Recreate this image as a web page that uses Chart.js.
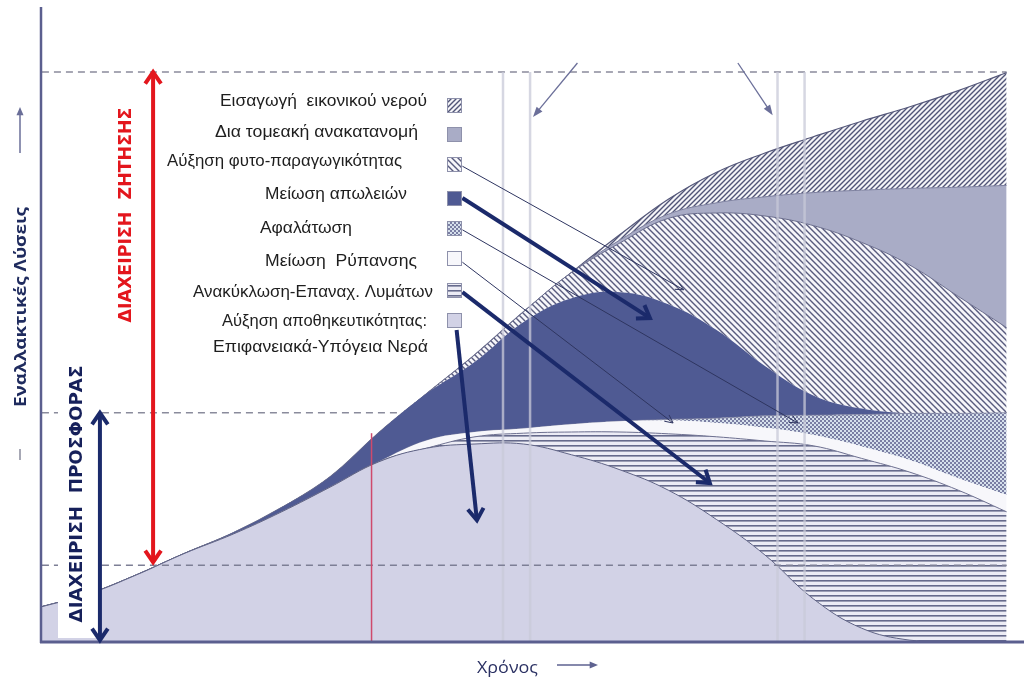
<!DOCTYPE html>
<html>
<head>
<meta charset="utf-8">
<script src="https://cdn.jsdelivr.net/npm/chart.js@4.4.0/dist/chart.umd.min.js"></script>
<style>
  html, body { margin: 0; padding: 0; background: #fff; overflow: hidden; }
  canvas { display: block; }
</style>
</head>
<body>
<canvas id="chart" width="1024" height="691"></canvas>
<script>
// time axis (arbitrary units)
const years = [0, 5, 10, 15, 20, 25, 30, 35, 40, 45, 50, 55, 60, 65, 70, 75, 80, 85, 90, 95, 100];

// legend labels, top to bottom
const legendLabels = [
    'Εισαγωγή  εικονικού νερού',
    'Δια τομεακή ανακατανομή',
    'Αύξηση φυτο-παραγωγικότητας',
    'Μείωση απωλειών',
    'Αφαλάτωση',
    'Μείωση  Ρύπανσης',
    'Ανακύκλωση-Επαναχ. Λυμάτων',
    'Αύξηση αποθηκευτικότητας:\nΕπιφανειακά-Υπόγεια Νερά'
];

// stacked layers, bottom to top
const storage   = [5.8, 8.0, 11.2, 14.8, 18.0, 21.7, 25.8, 30.0, 32.3, 33.0, 33.0, 31.2, 28.7, 25.3, 20.4, 14.5, 7.2, 2.3, 0.3, 0, 0];
const recycling = [0, 0, 0, 0, 0, 0, 0, 0, 0, 1.2, 1.8, 3.8, 6.3, 9.4, 13.8, 19.0, 25.5, 28.3, 28.0, 25.3, 21.7];
const pollution = [0, 0, 0, 0, 0, 0, 0, 0, 1.3, 0.8, 0.8, 1.3, 1.8, 2.2, 2.3, 2.2, 1.8, 2.0, 2.0, 2.0, 2.8];
const desal     = [0, 0, 0, 0, 0, 0, 0, 0, 0, 0, 0, 0, 0, 0.2, 0.8, 2.0, 3.3, 5.3, 7.8, 10.8, 13.7];
const losses    = [0, 0, 0, 0, 0.2, 0.7, 1.7, 4.8, 7.8, 11.7, 17.7, 21.0, 21.5, 19.2, 14.7, 8.3, 3.3, 1.0, 0, 0, 0];
const crops     = [0, 0, 0, 0, 0, 0, 0, 0, 0, 1.2, 1.7, 4.3, 8.2, 14.3, 19.5, 25.0, 28.3, 27.7, 24.7, 19.5, 14.2];
const realloc   = [0, 0, 0, 0, 0, 0, 0, 0, 0, 0, 0, 0, 0.5, 0.7, 1.7, 3.2, 5.5, 8.7, 12.8, 18.2, 23.7];
const virtual   = [0, 0, 0, 0, 0, 0, 0, 0, 0, 0, 0, 0, 0.9, 2.5, 5.1, 7.3, 9.3, 11.5, 13.6, 16.1, 18.8];

// reference levels (dashed lines)
const levels = [95.0, 38.2, 12.8];

const canvas = document.getElementById('chart');
const ctx0 = canvas.getContext('2d');

function makeTile(size, draw) {
    const c = document.createElement('canvas');
    c.width = size[0]; c.height = size[1];
    draw(c.getContext('2d'), size[0], size[1]);
    return ctx0.createPattern(c, 'repeat');
}

const fwdHatch = makeTile([5, 5], (g, w, h) => {
    g.fillStyle = '#f4f4f8'; g.fillRect(0, 0, w, h);
    g.strokeStyle = '#505477'; g.lineWidth = 1.4;
    g.beginPath();
    g.moveTo(-1, h + 1); g.lineTo(w + 1, -1);
    g.moveTo(-1, 1); g.lineTo(1, -1);
    g.moveTo(w - 1, h + 1); g.lineTo(w + 1, h - 1);
    g.stroke();
});
const backHatch = makeTile([6, 6], (g, w, h) => {
    g.fillStyle = '#f6f6fa'; g.fillRect(0, 0, w, h);
    g.strokeStyle = '#585b7e'; g.lineWidth = 1.4;
    g.beginPath();
    g.moveTo(-1, -1); g.lineTo(w + 1, h + 1);
    g.moveTo(w - 1, -1); g.lineTo(w + 1, 1);
    g.moveTo(-1, h - 1); g.lineTo(1, h + 1);
    g.stroke();
});
const crossHatch = makeTile([4, 4], (g, w, h) => {
    g.fillStyle = '#d6e0ec'; g.fillRect(0, 0, w, h);
    g.fillStyle = '#7a7ea3';
    g.fillRect(0, 0, 2, 2); g.fillRect(2, 2, 2, 2);
});
const hStripes = makeTile([5, 5], (g, w, h) => {
    g.fillStyle = '#ececf5'; g.fillRect(0, 0, w, h);
    g.fillStyle = '#666a8c'; g.fillRect(0, 0, w, 1.6);
});

const fills = {
    virtual: fwdHatch, realloc: '#a9acc6', crops: backHatch, losses: '#4f5a93',
    desal: crossHatch, pollution: '#f7f7fb', recycling: hStripes, storage: '#d2d2e6'
};

const pts = arr => years.map((x, i) => ({ x, y: arr[i] }));

function fitText(ctx, txt, x, y, w, font, color, align, rot) {
    ctx.save();
    ctx.font = font;
    ctx.fillStyle = color;
    ctx.textBaseline = 'middle';
    ctx.textAlign = align;
    const m = ctx.measureText(txt).width;
    ctx.translate(x, y);
    if (rot) ctx.rotate(rot);
    ctx.scale(w / m, 1);
    ctx.fillText(txt, 0, 0);
    ctx.restore();
}

function head(ctx, x, y, ang, len, spread, filled) {
    ctx.beginPath();
    ctx.moveTo(x - len * Math.cos(ang - spread), y - len * Math.sin(ang - spread));
    ctx.lineTo(x, y);
    ctx.lineTo(x - len * Math.cos(ang + spread), y - len * Math.sin(ang + spread));
    if (filled) { ctx.closePath(); ctx.fill(); } else ctx.stroke();
}

function arrow(ctx, x1, y1, x2, y2, o) {
    ctx.save();
    ctx.strokeStyle = o.color; ctx.fillStyle = o.color;
    ctx.lineWidth = o.lw; ctx.lineJoin = 'miter'; ctx.lineCap = 'butt';
    const ang = Math.atan2(y2 - y1, x2 - x1);
    const back = o.filled ? o.len * 0.8 : o.lw / 2;
    ctx.beginPath();
    const sx = o.both ? x1 + back * Math.cos(ang) : x1;
    const sy = o.both ? y1 + back * Math.sin(ang) : y1;
    ctx.moveTo(sx, sy);
    ctx.lineTo(x2 - back * Math.cos(ang), y2 - back * Math.sin(ang));
    ctx.stroke();
    head(ctx, x2, y2, ang, o.len, o.spread, o.filled);
    if (o.both) head(ctx, x1, y1, ang + Math.PI, o.len, o.spread, o.filled);
    ctx.restore();
}

const decor = {
    id: 'decor',
    beforeDatasetsDraw(chart) {
        const { ctx } = chart;
        const X = v => chart.scales.x.getPixelForValue(v);
        const Y = v => chart.scales.y.getPixelForValue(v);
        ctx.save();
        ctx.strokeStyle = '#8a8b9c'; ctx.lineWidth = 1.5; ctx.setLineDash([7, 5]);
        [levels[0], levels[1]].forEach(l => {
            ctx.beginPath(); ctx.moveTo(X(0.2), Y(l)); ctx.lineTo(X(100), Y(l)); ctx.stroke();
        });
        ctx.restore();
    },
    afterDatasetsDraw(chart) {
        const { ctx } = chart;
        const X = v => chart.scales.x.getPixelForValue(v);
        const Y = v => chart.scales.y.getPixelForValue(v);

        // time window bands
        ctx.save();
        ctx.strokeStyle = 'rgba(200,202,216,0.75)'; ctx.lineWidth = 2.5;
        [47.9, 50.7, 76.3, 79.1].forEach(v => {
            ctx.beginPath(); ctx.moveTo(X(v), Y(levels[0])); ctx.lineTo(X(v), Y(0)); ctx.stroke();
        });
        ctx.restore();

        // lower dashed level
        ctx.save();
        ctx.strokeStyle = '#7d7f95'; ctx.lineWidth = 1.5; ctx.setLineDash([7, 5]);
        ctx.beginPath(); ctx.moveTo(X(0.2), Y(levels[2])); ctx.lineTo(X(100), Y(levels[2])); ctx.stroke();
        ctx.restore();

        // red marker line
        ctx.save();
        ctx.strokeStyle = '#cf4a6c'; ctx.lineWidth = 1.5;
        ctx.beginPath(); ctx.moveTo(X(34.3), Y(34.8)); ctx.lineTo(X(34.3), Y(0)); ctx.stroke();
        ctx.restore();

        // white box behind supply label
        ctx.fillStyle = '#fff';
        ctx.fillRect(58, 360, 41, 278);

        // axes
        ctx.save();
        ctx.strokeStyle = '#5b5f8f';
        ctx.lineWidth = 2.5;
        ctx.beginPath(); ctx.moveTo(41, 7); ctx.lineTo(41, 643); ctx.stroke();
        ctx.lineWidth = 3;
        ctx.beginPath(); ctx.moveTo(40, 642); ctx.lineTo(1024, 642); ctx.stroke();
        ctx.restore();

        // demand / supply double arrows
        arrow(ctx, X(11.7), Y(levels[0]), X(11.7), Y(13.3), { color: '#e3161d', lw: 4, len: 14, spread: 0.6, both: true });
        arrow(ctx, X(6.2), Y(levels[1]), X(6.2), Y(0.3), { color: '#1b2a6b', lw: 4, len: 14, spread: 0.6, both: true });

        // top pointers
        arrow(ctx, X(55.6), Y(96.5), X(51.0), Y(87.5), { color: '#6b6f99', lw: 1.3, len: 11, spread: 0.35, filled: true });
        arrow(ctx, X(72.2), Y(96.5), X(75.8), Y(87.8), { color: '#6b6f99', lw: 1.3, len: 11, spread: 0.35, filled: true });

        // legend pointers
        const thin = { color: '#2e3560', lw: 1, len: 9, spread: 0.45 };
        const thick = { color: '#1b2a6b', lw: 4, len: 14, spread: 0.6 };
        arrow(ctx, X(43.7), Y(79.3), X(66.6), Y(58.7), thin);
        arrow(ctx, X(43.7), Y(74.0), X(63.1), Y(54.0), thick);
        arrow(ctx, X(43.7), Y(68.7), X(78.4), Y(36.5), thin);
        arrow(ctx, X(43.7), Y(63.3), X(65.5), Y(36.5), thin);
        arrow(ctx, X(43.7), Y(58.3), X(69.3), Y(26.5), thick);
        arrow(ctx, X(43.1), Y(52.0), X(45.2), Y(20.3), thick);

        // legend
        const boxFills = [fills.virtual, fills.realloc, fills.crops, fills.losses, fills.desal, fills.pollution, fills.recycling, fills.storage];
        const boxY = [105, 134, 164, 198, 228, 258, 290, 320];
        const textY = [102, 133, 162, 195, 229, 262, 293, 322];
        const textR = [427, 418, 402, 407, 352, 417, 433, 427];
        const textW = [207, 203, 235, 142, 92, 152, 240, 205];
        const lf = '16px "Liberation Sans Narrow", "Liberation Sans", Arial, sans-serif';
        legendLabels.forEach((lab, i) => {
            ctx.save();
            ctx.fillStyle = boxFills[i];
            ctx.fillRect(447, boxY[i] - 7, 15, 15);
            ctx.strokeStyle = '#8e91ab'; ctx.lineWidth = 1;
            ctx.strokeRect(447.5, boxY[i] - 6.5, 14, 14);
            ctx.restore();
            const lines = lab.split('\n');
            fitText(ctx, lines[0], textR[i], textY[i], textW[i], lf, '#1e1e1e', 'right');
            if (lines[1]) fitText(ctx, lines[1], 428, 348, 215, lf, '#1e1e1e', 'right');
        });

        // vertical labels
        fitText(ctx, 'ΔΙΑΧΕΙΡΙΣΗ  ΖΗΤΗΣΗΣ', 127, 215, 215, 'bold 17px "DejaVu Sans", sans-serif', '#e3161d', 'center', -Math.PI / 2);
        fitText(ctx, 'ΔΙΑΧΕΙΡΙΣΗ  ΠΡΟΣΦΟΡΑΣ', 78, 494, 257, 'bold 17px "DejaVu Sans", sans-serif', '#16205a', 'center', -Math.PI / 2);
        fitText(ctx, 'Εναλλακτικές Λύσεις', 21, 307, 200, 'bold 16px "Open Sans", sans-serif', '#1f2b5e', 'center', -Math.PI / 2);

        // y direction pointer
        arrow(ctx, 20, 153, 20, 107, { color: '#6a6e98', lw: 1.5, len: 9, spread: 0.4, filled: true });
        ctx.save();
        ctx.strokeStyle = '#8a8b9c'; ctx.lineWidth = 1.5;
        ctx.beginPath(); ctx.moveTo(20, 449); ctx.lineTo(20, 460); ctx.stroke();
        ctx.restore();

        // x axis title
        fitText(ctx, 'Χρόνος', 477, 668, 61, '17px "Open Sans", sans-serif', '#2b3163', 'left');
        arrow(ctx, 557, 665, 598, 665, { color: '#5e6290', lw: 1.5, len: 9, spread: 0.4, filled: true });
    }
};

const order = ['storage', 'recycling', 'pollution', 'desal', 'losses', 'crops', 'realloc', 'virtual'];
const series = { storage, recycling, pollution, desal, losses, crops, realloc, virtual };
const borders = {
    storage: ['#5f6385', 1], recycling: ['#6d7090', 1], pollution: ['rgba(0,0,0,0)', 0],
    desal: ['#7d819f', 0.8], losses: ['rgba(0,0,0,0)', 0], crops: ['#6a6d8d', 1],
    realloc: ['#7d809f', 1], virtual: ['#55587a', 1.2]
};

new Chart(canvas, {
    type: 'line',
    data: {
        datasets: order.map((k, i) => ({
            label: legendLabels[order.length - 1 - i].replace('\n', ' '),
            data: pts(series[k]),
            backgroundColor: fills[k],
            borderColor: borders[k][0],
            borderWidth: borders[k][1],
            fill: i === 0 ? 'origin' : '-1',
            pointRadius: 0,
            tension: 0.4
        }))
    },
    options: {
        responsive: false,
        animation: false,
        layout: { padding: { left: 40, right: 0, top: 0, bottom: 49 } },
        plugins: { legend: { display: false }, tooltip: { enabled: false } },
        scales: {
            x: { type: 'linear', min: 0, max: 101.8, display: false },
            y: { stacked: true, min: 0, max: 107, display: false }
        }
    },
    plugins: [decor]
});
</script>
</body>
</html>
